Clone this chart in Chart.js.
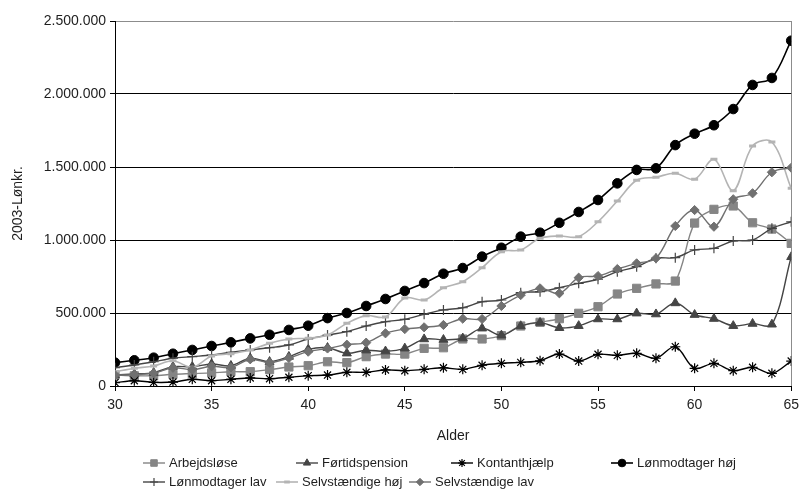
<!DOCTYPE html>
<html>
<head>
<meta charset="utf-8">
<script src="https://cdn.jsdelivr.net/npm/chart.js@4/dist/chart.umd.min.js"></script>
<style>
  html, body { margin: 0; padding: 0; background: #fff; }
  #wrap { width: 805px; height: 502px; }
</style>
</head>
<body>
<div id="wrap"><canvas id="c" width="805" height="502"></canvas></div>
<script>
// Alder (år)
const ages = [30,31,32,33,34,35,36,37,38,39,40,41,42,43,44,45,46,47,48,49,50,51,52,53,54,55,56,57,58,59,60,61,62,63,64,65];

// Beløb i 2003-lønkroner
const arbejdsloese = [75000,70000,70000,80000,85000,90000,98000,98000,112000,130000,139000,166000,160000,201000,219000,219000,258000,262000,322000,322000,345000,411000,436000,461000,498000,543000,630000,669000,699000,719000,1116000,1210000,1233000,1118000,1075000,977000];
const foertidspension = [75000,82000,91000,132000,132000,151000,139000,190000,166000,201000,251000,262000,224000,245000,238000,258000,321000,317000,327000,395000,347000,411000,434000,398000,412000,458000,458000,498000,492000,568000,488000,461000,412000,427000,422000,884000];
const kontanthjaelp = [23000,36000,25000,27000,46000,36000,46000,55000,50000,60000,71000,75000,94000,94000,110000,105000,114000,125000,114000,142000,155000,162000,173000,219000,171000,217000,210000,224000,190000,269000,121000,155000,105000,128000,87000,171000];
const loenHoej = [160000,176000,194000,221000,247000,274000,299000,326000,351000,384000,413000,465000,500000,548000,596000,651000,705000,769000,808000,886000,947000,1023000,1050000,1118000,1192000,1274000,1388000,1480000,1491000,1650000,1728000,1786000,1897000,2062000,2110000,2365000];
const loenLav = [125000,144000,166000,190000,201000,212000,231000,247000,262000,281000,322000,349000,372000,411000,440000,457000,491000,521000,536000,577000,589000,639000,646000,673000,703000,731000,783000,817000,875000,879000,932000,943000,993000,1000000,1080000,1125000];
const selvHoej = [98000,121000,137000,173000,128000,205000,221000,247000,292000,322000,327000,349000,429000,482000,473000,603000,589000,673000,714000,810000,920000,932000,1012000,1027000,1023000,1125000,1267000,1409000,1430000,1457000,1416000,1553000,1338000,1644000,1671000,1354000];
const selvLav = [75000,78000,88000,125000,112000,135000,128000,183000,160000,192000,235000,257000,283000,297000,361000,390000,402000,418000,461000,459000,548000,623000,669000,635000,742000,753000,801000,840000,875000,1096000,1205000,1091000,1279000,1320000,1464000,1495000];

const seriesNames = ['Arbejdsløse','Førtidspension','Kontanthjælp','Lønmodtager høj','Lønmodtager lav','Selvstændige høj','Selvstændige lav'];
const seriesValues = [arbejdsloese, foertidspension, kontanthjaelp, loenHoej, loenLav, selvHoej, selvLav];

const yTicks = [0, 500000, 1000000, 1500000, 2000000, 2500000];
const xTicks = [30, 35, 40, 45, 50, 55, 60, 65];

const FONT = 'Liberation Sans, Arial, sans-serif';
const TEXT = '#1e1e1e';

// Udseende pr. serie
const styles = [
  { color: '#858585', point: 'rect',     radius: 5.8, bw: 1,   lw: 1.4 },
  { color: '#454545', point: 'triangle', radius: 5.2, bw: 1,   lw: 1.4 },
  { color: '#000000', point: 'star',     radius: 5,   bw: 1.2, lw: 1.4 },
  { color: '#000000', point: 'circle',   radius: 4.8, bw: 1,   lw: 1.6 },
  { color: '#454545', point: 'cross',    radius: 5,   bw: 1.2, lw: 1.4 },
  { color: '#b4b4b4', point: 'line',     radius: 3.5, bw: 3,   lw: 1.6 },
  { color: '#707070', point: 'rectRot',  radius: 4.6, bw: 1,   lw: 1.4 }
];

function fmtDK(v) {
  return String(Math.round(v)).replace(/\B(?=(\d{3})+(?!\d))/g, '.');
}

const datasets = seriesNames.map((name, i) => {
  const s = styles[i];
  return {
    label: name,
    data: ages.map((a, j) => ({ x: a, y: seriesValues[i][j] })),
    borderColor: s.color,
    backgroundColor: s.color,
    pointBackgroundColor: s.color,
    pointBorderColor: s.color,
    pointStyle: s.point,
    pointRadius: s.radius,
    pointBorderWidth: s.bw,
    borderWidth: s.lw,
    tension: 0.35,
    fill: false,
    order: seriesNames.length - i
  };
});

// Forklaring under diagrammet: to rækker med linje, markør og tekst
const legendRows = [
  { y: 463, x: [143, 296, 451, 611], items: [0, 1, 2, 3] },
  { y: 482, x: [143, 276, 409],      items: [4, 5, 6] }
];

const bottomLegend = {
  id: 'bottomLegend',
  afterDraw(chart) {
    const ctx = chart.ctx;
    ctx.save();
    ctx.font = '13px ' + FONT;
    ctx.textBaseline = 'middle';
    ctx.textAlign = 'left';
    legendRows.forEach(row => {
      row.items.forEach((idx, k) => {
        const ds = chart.data.datasets[idx];
        const x0 = row.x[k];
        const y = row.y;
        ctx.strokeStyle = ds.borderColor;
        ctx.lineWidth = ds.borderWidth;
        ctx.beginPath();
        ctx.moveTo(x0, y);
        ctx.lineTo(x0 + 22, y);
        ctx.stroke();
        ctx.fillStyle = ds.pointBackgroundColor;
        ctx.strokeStyle = ds.pointBorderColor;
        ctx.lineWidth = ds.pointBorderWidth;
        Chart.helpers.drawPoint(ctx, {
          pointStyle: ds.pointStyle,
          radius: ds.pointRadius * 0.8,
          borderWidth: ds.pointBorderWidth,
          rotation: 0
        }, x0 + 11, y);
        ctx.fillStyle = TEXT;
        ctx.fillText(ds.label, x0 + 26, y + 0.5);
      });
    });
    ctx.restore();
  }
};

new Chart(document.getElementById('c'), {
  type: 'line',
  data: { datasets },
  plugins: [bottomLegend],
  options: {
    responsive: false,
    animation: false,
    devicePixelRatio: 1,
    layout: { padding: { top: 21, right: 10, bottom: 54, left: 0 } },
    plugins: {
      legend: { display: false },
      tooltip: { enabled: false }
    },
    scales: {
      x: {
        type: 'linear',
        min: 30,
        max: 65,
        afterBuildTicks(scale) { scale.ticks = xTicks.map(v => ({ value: v })); },
        afterFit(scale) { scale.height = 62; },
        ticks: {
          color: TEXT,
          font: { family: FONT, size: 14 },
          padding: 6,
          maxRotation: 0,
          callback: v => String(v)
        },
        grid: {
          drawOnChartArea: true,
          color: ctx => (ctx.tick && ctx.tick.value === 65) ? '#8c8c8c' : 'rgba(0,0,0,0)',
          tickColor: '#000',
          tickLength: 5,
          lineWidth: 1
        },
        border: { display: true, color: '#000', width: 1 },
        title: {
          display: true,
          text: 'Alder',
          color: TEXT,
          font: { family: FONT, size: 14 },
          padding: { top: 0, bottom: 3 }
        }
      },
      y: {
        type: 'linear',
        min: 0,
        max: 2500000,
        afterBuildTicks(scale) { scale.ticks = yTicks.map(v => ({ value: v })); },
        afterFit(scale) { scale.width = 115; },
        ticks: {
          color: TEXT,
          font: { family: FONT, size: 14 },
          padding: 4,
          callback: v => fmtDK(v)
        },
        grid: {
          color: ctx => (ctx.tick && ctx.tick.value === 2500000) ? '#8c8c8c' : '#000',
          tickColor: '#000',
          tickLength: 5,
          lineWidth: 1
        },
        border: { display: true, color: '#000', width: 1 },
        title: {
          display: true,
          text: '2003-Lønkr.',
          color: TEXT,
          font: { family: FONT, size: 14 },
          padding: { top: 10, bottom: 0 }
        }
      }
    }
  }
});
</script>
</body>
</html>
